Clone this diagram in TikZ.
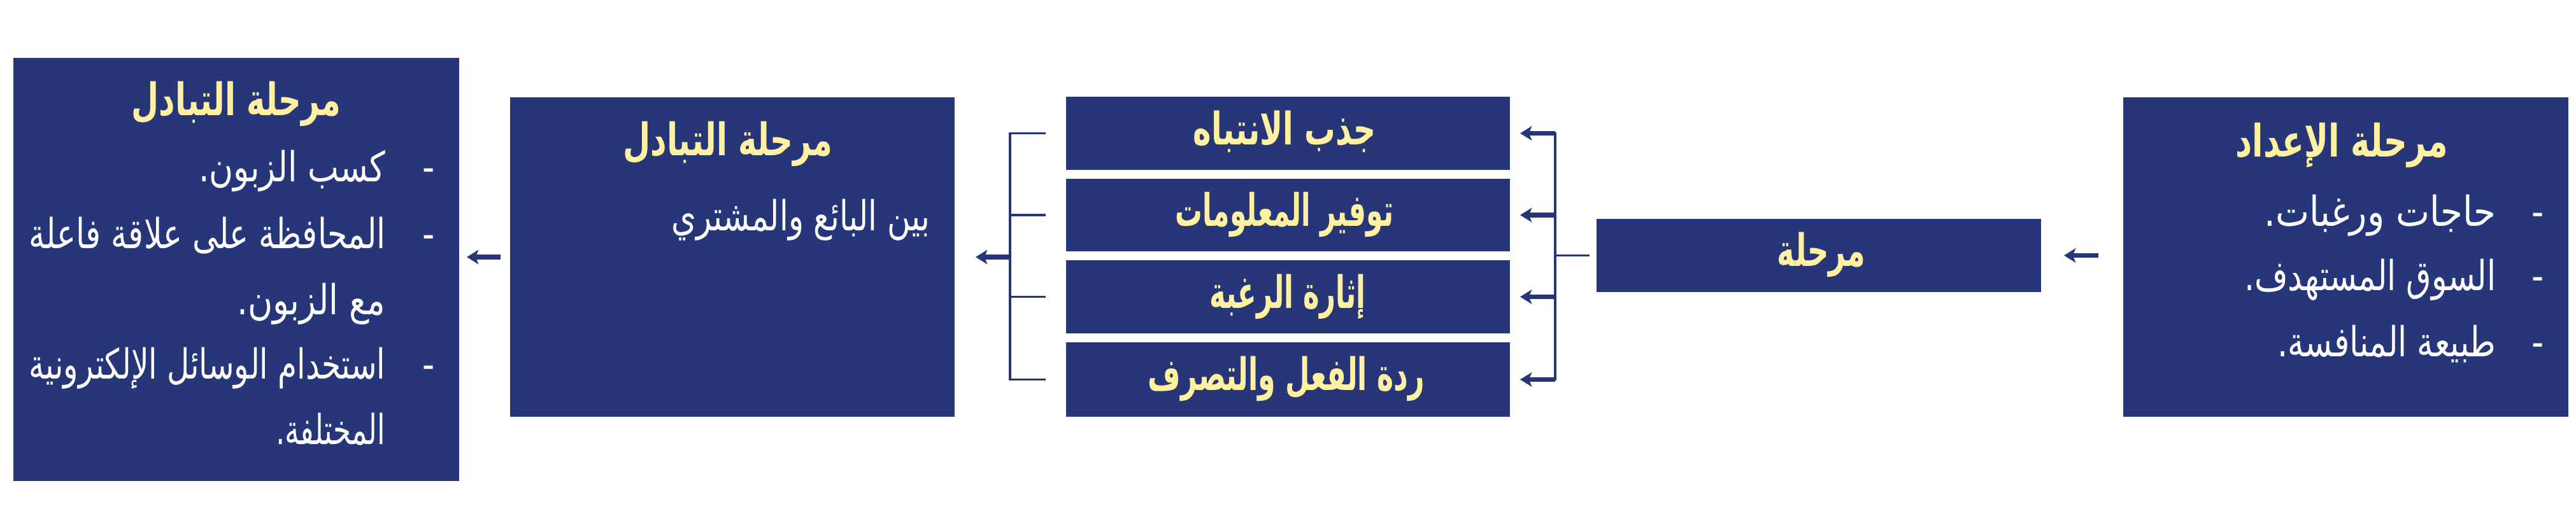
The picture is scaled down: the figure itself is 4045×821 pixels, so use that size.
\documentclass[tikz,border=0pt]{standalone}
\usepackage{fontspec}
\usepackage{graphicx}
\usetikzlibrary{arrows.meta,fit}
\newfontfamily\arttl[Script=Arabic, FakeStretch=0.72]{DejaVu Sans}
\newfontfamily\arbody[Script=Arabic, FakeStretch=0.82]{DejaVu Sans}
\TeXXeTstate=1
\newcommand\arw[2]{\resizebox{#1}{\height}{#2}}
\definecolor{navy}{RGB}{38,54,120}
\definecolor{ttl}{RGB}{255,241,160}
\begin{document}
\begin{tikzpicture}[x=0.01cm,y=-0.01cm,
  box/.style={fill=navy, draw=none, inner sep=0pt, outer sep=0pt},
  ttlfont/.style={font=\arttl\bfseries\fontsize{20}{23}\selectfont, text=ttl, inner sep=0pt},
  bodyfont/.style={font=\arbody\fontsize{18.5}{21}\selectfont, text=white, inner sep=0pt},
  arr/.style={-{Stealth[length=5.2pt,width=6.4pt,inset=1.3pt]}, line width=2.2pt, draw=navy},
  thinline/.style={line width=1pt, draw=navy, line cap=rect},
]
\useasboundingbox (0,0) rectangle (4045,821);

% boxes
\node[box, fit={(21,91) (721,756)}] (b1) {};
\node[box, fit={(801,153) (1499,655)}] (b2) {};
\node[box, fit={(1674,152) (2371,267)}] (s1) {};
\node[box, fit={(1674,281) (2371,395)}] (s2) {};
\node[box, fit={(1674,409) (2371,524)}] (s3) {};
\node[box, fit={(1674,538) (2371,655)}] (s4) {};
\node[box, fit={(2507,344) (3205,459)}] (m) {};
\node[box, fit={(3334,153) (4033,655)}] (b5) {};

% box 1 texts
\node[ttlfont, anchor=base] (t1) at (371,181) {\arw{3.28cm}{\beginR مرحلة التبادل\endR}};
\node[bodyfont, anchor=base east] (l11) at (606,285) {\arw{2.93cm}{\beginR كسب الزبون.\endR}};
\node[bodyfont, anchor=base east] (l12) at (606,390) {\arw{5.59cm}{\beginR المحافظة على علاقة فاعلة\endR}};
\node[bodyfont, anchor=base east] (l13) at (606,494) {\arw{2.33cm}{\beginR مع الزبون.\endR}};
\node[bodyfont, anchor=base east] (l14) at (606,595) {\arw{5.59cm}{\beginR استخدام الوسائل الإلكترونية\endR}};
\node[bodyfont, anchor=base east] (l15) at (606,698) {\arw{1.72cm}{\beginR المختلفة.\endR}};
\node[bodyfont, anchor=base] (d11) at (673,285) {-};
\node[bodyfont, anchor=base] (d12) at (673,390) {-};
\node[bodyfont, anchor=base] (d14) at (673,595) {-};

% box 2 texts
\node[ttlfont, anchor=base] (t2) at (1143,244) {\arw{3.29cm}{\beginR مرحلة التبادل\endR}};
\node[bodyfont, anchor=base east] (l21) at (1461,362) {\arw{4.06cm}{\beginR بين البائع والمشتري\endR}};

% small boxes texts
\node[ttlfont, anchor=base] (ts1) at (2017,227) {\arw{2.86cm}{\beginR جذب الانتباه\endR}};
\node[ttlfont, anchor=base] (ts2) at (2017,355) {\arw{3.42cm}{\beginR توفير المعلومات\endR}};
\node[ttlfont, anchor=base] (ts3) at (2022,484) {\arw{2.45cm}{\beginR إثارة الرغبة\endR}};
\node[ttlfont, anchor=base] (ts4) at (2020,613) {\arw{4.34cm}{\beginR ردة الفعل والتصرف\endR}};

% middle box text
\node[ttlfont, anchor=base] (tm) at (2860,418) {\arw{1.38cm}{\beginR مرحلة\endR}};

% right box texts
\node[ttlfont, anchor=base] (t5) at (3677,246) {\arw{3.33cm}{\beginR مرحلة الإعداد\endR}};
\node[bodyfont, anchor=base east] (l51) at (3920,355) {\arw{3.64cm}{\beginR حاجات ورغبات.\endR}};
\node[bodyfont, anchor=base east] (l52) at (3920,456) {\arw{3.95cm}{\beginR السوق المستهدف.\endR}};
\node[bodyfont, anchor=base east] (l53) at (3920,560) {\arw{3.43cm}{\beginR طبيعة المنافسة.\endR}};
\node[bodyfont, anchor=base] (d51) at (3985,355) {-};
\node[bodyfont, anchor=base] (d52) at (3985,456) {-};
\node[bodyfont, anchor=base] (d53) at (3985,560) {-};

% connectors
\coordinate (busR) at (2442,0);
\coordinate (busL) at (1586,0);

\draw[arr, shorten <=0.39cm, shorten >=0.36cm] (b5.west |- m.east) -- (m.east);
\draw[thinline, shorten <=0.13cm] (m.west) -- (busR |- m.west);
\draw[thinline] (busR |- s1.east) -- (busR |- s4.east);
\foreach \s in {s1,s2,s3,s4}
  \draw[arr, shorten >=0.16cm] (busR |- \s.east) -- (\s.east);

\draw[thinline] (busL |- s1.west) -- (busL |- s4.west);
\foreach \s in {s1,s2,s3,s4}
  \draw[thinline, shorten >=0.34cm] (busL |- \s.west) -- (\s.west);
\draw[arr, shorten >=0.33cm] (busL |- b2.east) -- (b2.east);

\draw[arr, shorten <=0.15cm, shorten >=0.12cm] (b2.west) -- (b2.west -| b1.east);
\end{tikzpicture}
\end{document}
